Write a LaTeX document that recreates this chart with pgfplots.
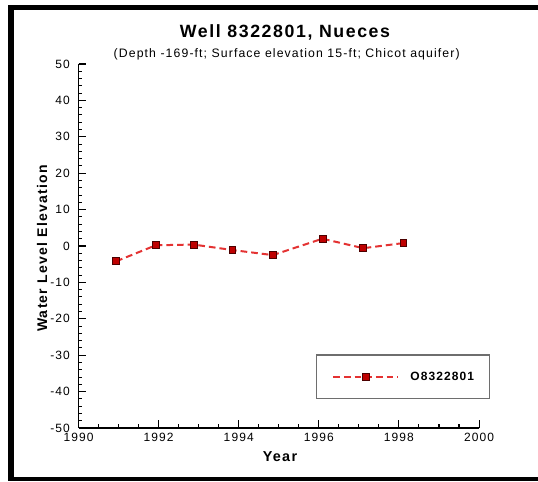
\documentclass[border=0pt]{standalone}
\usepackage{fontspec}
\setmainfont[LetterSpace=9]{Liberation Sans}
\usepackage{pgfplots}
\pgfplotsset{compat=1.18}
\definecolor{ptred}{RGB}{190,0,0}
\definecolor{linered}{RGB}{228,50,50}
\definecolor{boxgray}{RGB}{110,110,110}
\begin{document}
\begin{tikzpicture}
% page 538 x 481 px, 1 px = 0.75pt, origin top left
\useasboundingbox (0,0) rectangle (403.5pt,-360.75pt);
\fill[white] (0,0) rectangle (403.5pt,-360.75pt);
% frame
\fill[black] (6pt,-3.75pt) rectangle (403.5pt,-7.5pt);
\fill[black] (6pt,-3.75pt) rectangle (10.5pt,-360.75pt);
\fill[black] (6pt,-357.75pt) rectangle (403.5pt,-360.75pt);
% titles
\node[font=\bfseries\fontsize{13.3pt}{14pt}\selectfont] at (213.75pt,-24.5pt) {Well 8322801, Nueces};
\node[font=\fontsize{9.2pt}{10pt}\selectfont] at (215pt,-40.5pt) {(Depth -169-ft; Surface elevation 15-ft; Chicot aquifer)};
\node[font=\bfseries\fontsize{10.5pt}{12pt}\selectfont, rotate=90] at (31.5pt,-186.4pt) {Water Level Elevation};
\node[font=\bfseries\fontsize{10.8pt}{12pt}\selectfont] at (210pt,-342.5pt) {Year};
\begin{axis}[
  at={(58.875pt,-321pt)}, anchor=south west,
  scale only axis, width=300.4pt, height=273pt,
  axis lines=left,
  axis line style={-, line width=1.2pt, black},
  tick align=inside,
  major tick length=6pt, minor tick length=3pt,
  tick style={line width=0.8pt, black},
  xmin=1990, xmax=2000, ymin=-50, ymax=50,
  xtick distance=2, minor x tick num=3,
  ytick distance=10, minor y tick num=4,
  tick label style={font=\fontsize{9pt}{10pt}\selectfont, /pgf/number format/assume math mode=true},
  x tick label style={/pgf/number format/1000 sep={}},
  yticklabel style={xshift=-3pt},
  clip=false,
  legend style={at={(0.593,0.079)}, anchor=south west,
    draw=boxgray, line width=0.8pt,
    inner xsep=11.8pt, inner ysep=12.5pt,
    column sep=8.3pt,
    nodes={inner sep=0pt, font=\bfseries\fontsize{9pt}{10pt}\selectfont}},
  legend image code/.code={%
    \draw[mark repeat=2, mark phase=2, #1] plot coordinates {(0pt,0pt) (24.4pt,0pt) (48.8pt,0pt)};},
]
\addplot[linered, line width=1.5pt, dash pattern=on 5pt off 3pt,
  mark=square*, mark size=2.6pt,
  mark options={solid, fill=ptred, draw=black!60!ptred, line width=0.5pt}]
  coordinates {
  (1990.94,-4.2)
  (1991.93,0.2)
  (1992.87,0.4)
  (1993.84,-1.1)
  (1994.85,-2.5)
  (1996.09,2.0)
  (1997.11,-0.6)
  (1998.11,0.8)
  };
\addlegendentry{O8322801}
\end{axis}
\end{tikzpicture}
\end{document}
